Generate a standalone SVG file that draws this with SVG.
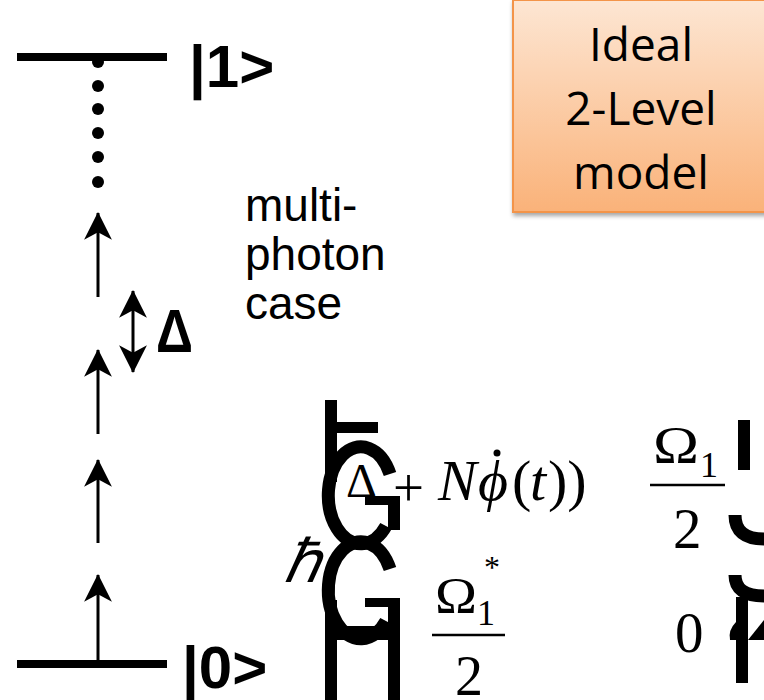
<svg xmlns="http://www.w3.org/2000/svg" width="764" height="700" viewBox="0 0 764 700">
<style>
.lvl{stroke:#000;stroke-width:8;fill:none}
.arr{stroke:#000;stroke-width:3;fill:none}
.ket{font-family:"Liberation Sans",Arial,sans-serif;font-weight:bold;font-size:60px;fill:#000}
.lab{font-family:"Liberation Sans",Arial,sans-serif;font-size:46px;fill:#000}
.dl{font-family:"Liberation Sans",Arial,sans-serif;font-size:62px;font-weight:bold;fill:#000}
.box{font-family:"Open Sans","Liberation Sans",sans-serif;font-size:46px;fill:#000;text-anchor:middle}
.m{font-family:"Liberation Serif","Times New Roman",serif;fill:#000}
.mi{font-family:"Liberation Serif","Times New Roman",serif;font-style:italic;fill:#000}
.br{fill:#000}
.brs{fill:none;stroke:#000;stroke-width:13}
</style>
<defs>
<marker id="ah" markerUnits="userSpaceOnUse" markerWidth="30" markerHeight="30" viewBox="-26 -14 28 28" refX="0" refY="0" orient="auto-start-reverse" overflow="visible">
<path d="M1,0 L-25,-13 L-18,0 L-25,13 Z" fill="#000"/>
</marker>
<linearGradient id="bg" x1="0" y1="0" x2="0" y2="1">
<stop offset="0" stop-color="#fde6d3"/>
<stop offset="1" stop-color="#fab279"/>
</linearGradient>
<filter id="sh" x="-10%" y="-10%" width="130%" height="130%">
<feDropShadow dx="1" dy="3" stdDeviation="2" flood-color="#000" flood-opacity="0.35"/>
</filter>
</defs>

<g id="level1">
<line class="lvl" x1="17" y1="57" x2="167" y2="57"/>
<text class="ket" x="189" y="87">|1&gt;</text>
</g>
<g id="level0">
<line class="lvl" x1="17" y1="664" x2="167" y2="664"/>
<text class="ket" x="182" y="688">|0&gt;</text>
</g>

<g id="dots" fill="#000">
<circle cx="98" cy="62" r="6"/>
<circle cx="98" cy="86" r="6"/>
<circle cx="98" cy="109" r="6"/>
<circle cx="98" cy="133" r="6"/>
<circle cx="98" cy="157" r="6"/>
<circle cx="98" cy="182" r="6"/>
</g>

<g id="connectors">
<line class="arr" x1="98" y1="297" x2="98" y2="213" marker-end="url(#ah)"/>
<line class="arr" x1="98" y1="434" x2="98" y2="350" marker-end="url(#ah)"/>
<line class="arr" x1="98" y1="543" x2="98" y2="460" marker-end="url(#ah)"/>
<line class="arr" x1="98" y1="660" x2="98" y2="575" marker-end="url(#ah)"/>
<line class="arr" x1="133" y1="291" x2="133" y2="372" marker-start="url(#ah)" marker-end="url(#ah)"/>
</g>

<g id="delta-label">
<text class="dl" x="156" y="352" textLength="37" lengthAdjust="spacingAndGlyphs">Δ</text>
</g>

<g id="multiphoton-label">
<text class="lab" x="245" y="221">multi-</text>
<text class="lab" x="245" y="270">photon</text>
<text class="lab" x="245" y="319">case</text>
</g>

<g id="model-box">
<rect x="513" y="0" width="270" height="212" fill="url(#bg)" stroke="#f39449" stroke-width="2" filter="url(#sh)"/>
<text class="box" x="641" y="61">Ideal</text>
<text class="box" x="641" y="125">2-Level</text>
<text class="box" x="641" y="189">model</text>
</g>

<g id="hamiltonian">
<text class="mi" x="284" y="582" font-size="60">ℏ</text>
<!-- left bracket pieces -->
<rect class="br" x="325" y="400" width="12" height="82"/>
<rect class="br" x="337" y="422" width="41" height="11"/>
<path class="brs" d="M390,474 A32.5,48.5 0 1 0 386,526"/>
<rect class="br" x="365" y="496" width="35" height="9"/>
<rect class="br" x="388" y="496" width="12" height="34"/>
<path class="brs" d="M390,569 A32.5,48.5 0 1 0 386,621"/>
<rect class="br" x="365" y="598" width="35" height="9"/>
<rect class="br" x="388" y="598" width="12" height="30"/>
<rect class="br" x="325" y="600" width="12" height="100"/>
<rect class="br" x="388" y="625" width="12" height="75"/>
<rect class="br" x="337" y="626" width="63" height="14"/>
<!-- row 1 -->
<text class="m" x="346" y="497" font-size="48">Δ</text>
<text class="m" x="393" y="506" font-size="55">+</text>
<text class="mi" x="438" y="500" font-size="58">N</text>
<text class="mi" x="478" y="500" font-size="58">ϕ</text>
<circle cx="497" cy="453" r="3.5" fill="#000"/>
<text class="m" x="512" y="500" font-size="58">(</text>
<text class="mi" x="530" y="500" font-size="58">t</text>
<text class="m" x="548" y="500" font-size="58">))</text>
<!-- row 1 right -->
<text class="m" x="653" y="463" font-size="52" textLength="46" lengthAdjust="spacingAndGlyphs">Ω</text>
<text class="m" x="700" y="477" font-size="36">1</text>
<line x1="650" y1="485" x2="725" y2="485" stroke="#000" stroke-width="2.5"/>
<text class="m" x="673" y="548" font-size="57">2</text>
<!-- row 2 -->
<text class="m" x="435" y="612" font-size="50" textLength="42" lengthAdjust="spacingAndGlyphs">Ω</text>
<text class="m" x="477" y="625" font-size="36">1</text>
<text class="m" x="484" y="578" font-size="32">*</text>
<line x1="432" y1="635" x2="505" y2="635" stroke="#000" stroke-width="2.5"/>
<text class="m" x="455" y="695" font-size="56">2</text>
<text class="m" x="675" y="652" font-size="57">0</text>
<!-- right bracket pieces -->
<rect class="br" x="738" y="420" width="12" height="50"/>
<path class="brs" d="M735,515 Q735,539 764,539"/>
<path class="brs" d="M735,575 Q735,596 764,596"/>
<rect class="br" x="736" y="597" width="12" height="86"/>
<path class="br" d="M736,622 Q728,630 730,640 L736,640 Z"/>
<path class="br" d="M748,640 L764,620 L764,640 Z"/>
</g>
</svg>
